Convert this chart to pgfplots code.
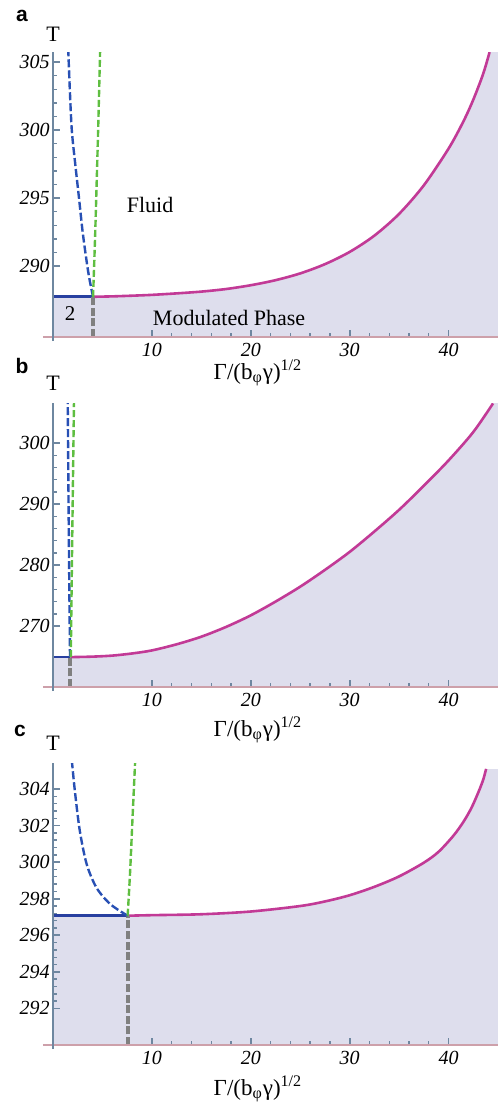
\documentclass[border=0pt]{standalone}
\usepackage{fontspec}
\setmainfont{Liberation Serif}
\newfontfamily\panelfont{Liberation Sans}
\usepackage{pgfplots}
\pgfplotsset{compat=1.18}

\definecolor{phasefill}{RGB}{222,222,237}
\definecolor{curvemag}{RGB}{194,58,150}
\definecolor{coexblue}{RGB}{40,64,160}
\definecolor{spinblue}{RGB}{40,80,180}
\definecolor{spingreen}{RGB}{95,190,65}
\definecolor{lifgray}{RGB}{128,128,128}
\definecolor{axisgray}{RGB}{110,135,160}
\definecolor{axispink}{RGB}{205,160,170}

\pgfplotsset{
  phase/.style={
    scale only axis, width=222.5pt, xmin=0, xmax=45,
    axis x line=bottom, axis y line=left, axis on top,
    axis line style={-},
    x axis line style={-, axispink, line width=0.6pt, shorten <=-5pt},
    y axis line style={-, axisgray, line width=0.6pt, shorten <=-2pt},
    tick align=inside,
    major tick length=3.5pt, minor tick length=2.2pt,
    every tick/.append style={draw=axisgray, line width=0.9pt},
    every minor tick/.append style={draw=axisgray, line width=0.7pt},
    xtick={10,20,30,40}, minor x tick num=4, minor y tick num=4,
    /pgf/number format/assume math mode=true,
    xticklabel style={font=\fontsize{10}{12}\selectfont\itshape, inner sep=2pt, yshift=-1pt},
    yticklabel style={font=\fontsize{10}{12}\selectfont\itshape, inner sep=1.5pt},
  },
  region/.style={fill=phasefill, draw=none},
  bound/.style={curvemag, line width=1.3pt, smooth},
  coex/.style={coexblue, line width=1.3pt},
  spinb/.style={spinblue, line width=1.2pt, smooth, dash pattern=on 4pt off 1.5pt},
  sping/.style={spingreen, line width=1.2pt, smooth, dash pattern=on 3.5pt off 1.5pt},
  lif/.style={lifgray, line width=2pt, dash pattern=on 4pt off 1.3pt},
}

\pgfplotstableread{
x T
4.05 287.74
6 287.77
8 287.82
10 287.88
12.5 287.99
15 288.12
17.5 288.31
20 288.59
22.5 288.96
25 289.46
27.5 290.14
30 291.04
32.5 292.24
35 293.84
37.5 295.94
40 298.64
41.5 300.64
42.5 302.24
43.5 304.14
44.15 305.74
}\bounda
\pgfplotstableread{
x T
1.75 264.9
4 264.98
6 265.15
8 265.5
10 266.0
12.5 267.0
15 268.25
17.5 269.85
20 271.75
22.5 274.0
25 276.45
27.5 279.2
30 282.15
32.5 285.5
35 289.05
37.5 293.0
40 297.15
42.5 301.8
44.5 306.5
}\boundb
\pgfplotstableread{
x T
7.55 297.07
10 297.1
15 297.15
20 297.3
25 297.6
27.5 297.85
30 298.19
32.5 298.65
35 299.22
37.5 299.97
39 300.57
40.5 301.45
41.5 302.2
42.3 302.95
43.0 303.8
43.5 304.5
43.8 305.1
}\boundc

\begin{document}
\begin{tikzpicture}
\useasboundingbox (0,0) rectangle (250.5pt,-554pt);

% ---- panel a
\begin{axis}[phase, at={(26.5pt,-168.5pt)}, anchor=south west, height=142.5pt,
  ymin=284.78, ymax=305.75, ytick={290,295,300,305}]
\addplot[region] coordinates {(0,287.74) (4.1,287.74)} \closedcycle;
\addplot[region, smooth] table {\bounda} \closedcycle;
\addplot[region] coordinates {(44.1,305.75) (45,305.75)} \closedcycle;
\addplot[bound] table {\bounda};
\addplot[coex] coordinates {(0,287.74) (4.05,287.74)};
\addplot[lif] coordinates {(4.05,284.78) (4.05,287.74)};
\addplot[spinb] coordinates {
  (4.05,287.74) (3.75,288.8) (3.47,290) (3.0,292.5) (2.63,295) (2.25,297.5)
  (1.9,300) (1.7,303) (1.55,305.75)};
\addplot[sping] coordinates {
  (4.05,287.74) (4.25,292) (4.45,297) (4.6,301) (4.76,305.75)};
\node[font=\fontsize{11}{13}\selectfont] at (axis cs:9.82,294.49) {Fluid};
\node[font=\fontsize{11}{13}\selectfont] at (axis cs:17.8,286.18) {Modulated Phase};
\node[font=\fontsize{10.5}{12}\selectfont] at (axis cs:1.72,286.54) {2};
\end{axis}

% ---- panel b
\begin{axis}[phase, at={(26.5pt,-343.5pt)}, anchor=south west, height=142pt,
  ymin=260, ymax=306.56, ytick={270,280,290,300}]
\addplot[region] coordinates {(0,264.9) (1.8,264.9)} \closedcycle;
\addplot[region, smooth] table {\boundb} \closedcycle;
\addplot[region] coordinates {(44.4,306.56) (45,306.56)} \closedcycle;
\addplot[bound] table {\boundb};
\addplot[coex] coordinates {(0,264.9) (1.75,264.9)};
\addplot[lif] coordinates {(1.75,260) (1.75,264.9)};
\addplot[spinb] coordinates {(1.72,264.9) (1.6,285) (1.49,306.56)};
\addplot[sping] coordinates {(1.8,264.9) (1.95,285) (2.12,306.56)};
\end{axis}

% ---- panel c
\begin{axis}[phase, at={(26.5pt,-522.5pt)}, anchor=south west, height=141pt,
  ymin=290, ymax=305.42, ytick={292,294,...,304}]
\addplot[region] coordinates {(0,297.07) (7.6,297.07)} \closedcycle;
\addplot[region, smooth] table {\boundc} \closedcycle;
\addplot[region] coordinates {(43.75,305.1) (45,305.1)} \closedcycle;
\addplot[bound] table {\boundc};
\addplot[coex] coordinates {(0,297.07) (7.55,297.07)};
\addplot[lif] coordinates {(7.55,290) (7.55,297.07)};
\addplot[spinb] coordinates {
  (7.55,297.07) (5.8,297.7) (4.4,298.6) (3.4,299.9) (2.7,301.75)
  (2.2,303.95) (1.93,305.42)};
\addplot[sping] coordinates {
  (7.55,297.07) (7.8,299.5) (8.05,302.5) (8.3,305.42)};
\end{axis}

% ---- labels
\node[font=\panelfont\bfseries\fontsize{10.5}{12}\selectfont, anchor=base] at (11pt,-10.5pt) {a};
\node[font=\panelfont\bfseries\fontsize{10.5}{12}\selectfont, anchor=base] at (11pt,-186.5pt) {b};
\node[font=\panelfont\bfseries\fontsize{10.5}{12}\selectfont, anchor=base] at (10pt,-368pt) {c};
\node[font=\fontsize{11}{13}\selectfont, anchor=base] at (26.5pt,-20.5pt) {T};
\node[font=\fontsize{11}{13}\selectfont, anchor=base] at (26.5pt,-195pt) {T};
\node[font=\fontsize{11}{13}\selectfont, anchor=base] at (26.5pt,-375pt) {T};
\node[font=\fontsize{11.5}{14}\selectfont, anchor=base, inner sep=0pt] at (129pt,-189.5pt) {Γ/(b\textsubscript{φ}γ)\textsuperscript{1/2}};
\node[font=\fontsize{11.5}{14}\selectfont, anchor=base, inner sep=0pt] at (129pt,-368pt) {Γ/(b\textsubscript{φ}γ)\textsuperscript{1/2}};
\node[font=\fontsize{11.5}{14}\selectfont, anchor=base, inner sep=0pt] at (129pt,-547.5pt) {Γ/(b\textsubscript{φ}γ)\textsuperscript{1/2}};
\end{tikzpicture}
\end{document}
